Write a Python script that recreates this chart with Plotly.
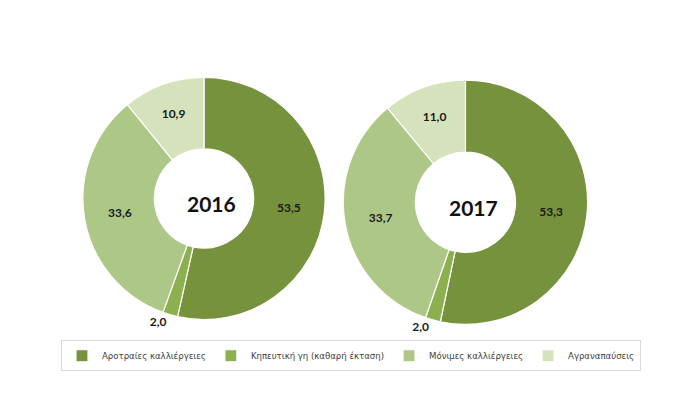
import plotly.graph_objects as go

# data
categories = ["Αροτραίες καλλιέργειες", "Κηπευτική γη (καθαρή έκταση)",
              "Μόνιμες καλλιέργειες", "Αγραναπαύσεις"]
values_2016 = [53.5, 2.0, 33.6, 10.9]
values_2017 = [53.3, 2.0, 33.7, 11.0]
years = ["2016", "2017"]

COLORS = ["#76923C", "#8DB04E", "#ADC787", "#D5E2BB"]
LABEL_FONT = "Lato, Open Sans, sans-serif"
LEGEND_FONT = "DejaVu Sans Condensed, Open Sans, sans-serif"

fig = go.Figure()

domains = [
    dict(x=[0.107, 0.453], y=[0.238, 0.855]),
    dict(x=[0.479, 0.828], y=[0.227, 0.848]),
]

for vals, dom, yr in zip([values_2016, values_2017], domains, years):
    fig.add_trace(go.Pie(
        labels=categories,
        values=vals,
        hole=0.41,
        sort=False,
        direction="clockwise",
        rotation=0,
        domain=dom,
        marker=dict(colors=COLORS, line=dict(color="white", width=1.2)),
        texttemplate="%{value:.1f}",
        textposition=["inside", "outside", "inside", "inside"],
        insidetextorientation="horizontal",
        textfont=dict(family=LABEL_FONT, size=12, color="#1a1a1a", weight="bold"),
        outsidetextfont=dict(family=LABEL_FONT, size=12, color="#1a1a1a", weight="bold"),
        showlegend=(yr == "2016"),
        name=yr,
        hoverinfo="label+value",
    ))
    # year in the hole (pie sits ~8px right of domain centre because of the outside label)
    fig.add_annotation(
        x=(dom["x"][0] + dom["x"][1]) / 2 + 0.011,
        y=(dom["y"][0] + dom["y"][1]) / 2 - 0.012,
        xref="paper", yref="paper",
        xanchor="center", yanchor="middle",
        text="<b>%s</b>" % yr,
        showarrow=False,
        font=dict(family=LABEL_FONT, size=21, color="#111111"),
    )

fig.update_layout(
    width=700,
    height=420,
    margin=dict(l=0, r=0, t=0, b=0),
    paper_bgcolor="white",
    plot_bgcolor="white",
    separators=",.",
    legend=dict(
        orientation="h",
        x=0.49, xanchor="center",
        y=0.172, yanchor="middle",
        font=dict(family=LEGEND_FONT, size=9.5, color="#404040"),
        bordercolor="#d9d9d9",
        borderwidth=1,
        itemwidth=30,
        traceorder="normal",
    ),
)

fig.write_html("out.html")
